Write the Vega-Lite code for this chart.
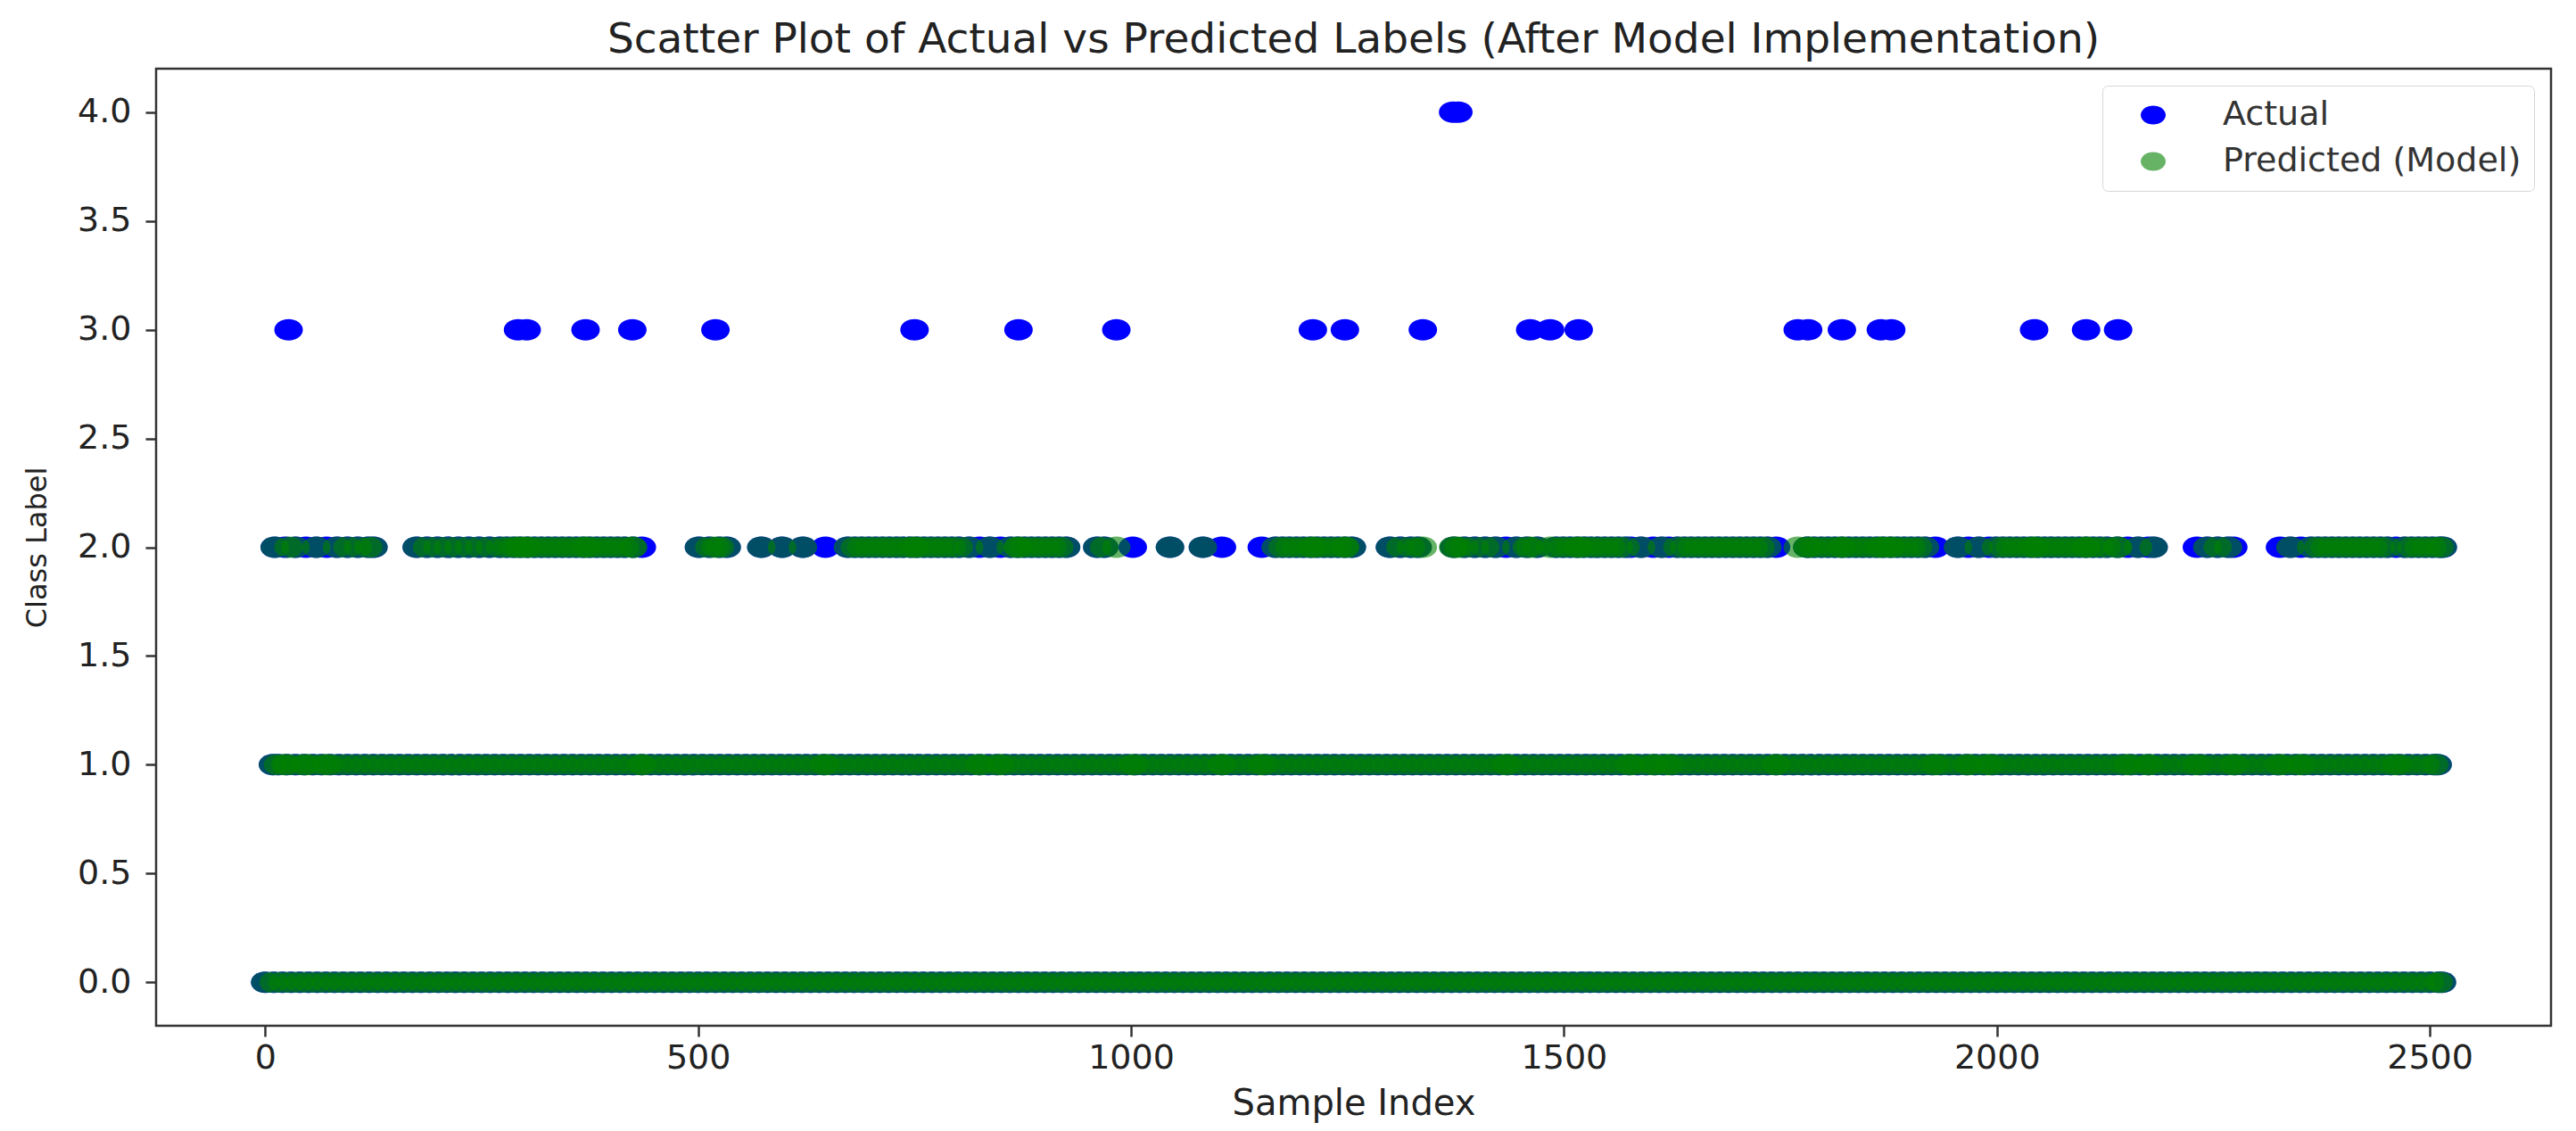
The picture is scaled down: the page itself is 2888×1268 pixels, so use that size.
{
  "$schema": "https://vega.github.io/schema/vega-lite/v6.json",
  "description": "Scatter of actual vs predicted class labels per sample index",
  "autosize": {"type": "none"},
  "width": 2685,
  "height": 1073,
  "padding": {"left": 175, "top": 77, "right": 28, "bottom": 118},
  "background": "white",
  "title": {
    "text": "Scatter Plot of Actual vs Predicted Labels (After Model Implementation)",
    "font": "DejaVu Sans",
    "fontSize": 47,
    "fontWeight": "normal",
    "color": "#222",
    "anchor": "middle",
    "offset": 8
  },
  "data": {
    "values": [
      {"i":0,"a":0,"p":0},{"i":10,"a":0,"p":0},{"i":20,"a":0,"p":0},{"i":30,"a":0,"p":0},{"i":40,"a":0,"p":0},{"i":50,"a":0,"p":0},{"i":60,"a":0,"p":0},{"i":70,"a":0,"p":0},{"i":80,"a":0,"p":0},{"i":90,"a":0,"p":0},
      {"i":100,"a":0,"p":0},{"i":110,"a":0,"p":0},{"i":120,"a":0,"p":0},{"i":130,"a":0,"p":0},{"i":140,"a":0,"p":0},{"i":150,"a":0,"p":0},{"i":160,"a":0,"p":0},{"i":170,"a":0,"p":0},{"i":180,"a":0,"p":0},{"i":190,"a":0,"p":0},
      {"i":200,"a":0,"p":0},{"i":210,"a":0,"p":0},{"i":220,"a":0,"p":0},{"i":230,"a":0,"p":0},{"i":240,"a":0,"p":0},{"i":250,"a":0,"p":0},{"i":260,"a":0,"p":0},{"i":270,"a":0,"p":0},{"i":280,"a":0,"p":0},{"i":290,"a":0,"p":0},
      {"i":300,"a":0,"p":0},{"i":310,"a":0,"p":0},{"i":320,"a":0,"p":0},{"i":330,"a":0,"p":0},{"i":340,"a":0,"p":0},{"i":350,"a":0,"p":0},{"i":360,"a":0,"p":0},{"i":370,"a":0,"p":0},{"i":380,"a":0,"p":0},{"i":390,"a":0,"p":0},
      {"i":400,"a":0,"p":0},{"i":410,"a":0,"p":0},{"i":420,"a":0,"p":0},{"i":430,"a":0,"p":0},{"i":440,"a":0,"p":0},{"i":450,"a":0,"p":0},{"i":460,"a":0,"p":0},{"i":470,"a":0,"p":0},{"i":480,"a":0,"p":0},{"i":490,"a":0,"p":0},
      {"i":500,"a":0,"p":0},{"i":510,"a":0,"p":0},{"i":520,"a":0,"p":0},{"i":530,"a":0,"p":0},{"i":540,"a":0,"p":0},{"i":550,"a":0,"p":0},{"i":560,"a":0,"p":0},{"i":570,"a":0,"p":0},{"i":580,"a":0,"p":0},{"i":590,"a":0,"p":0},
      {"i":600,"a":0,"p":0},{"i":610,"a":0,"p":0},{"i":620,"a":0,"p":0},{"i":630,"a":0,"p":0},{"i":640,"a":0,"p":0},{"i":650,"a":0,"p":0},{"i":660,"a":0,"p":0},{"i":670,"a":0,"p":0},{"i":680,"a":0,"p":0},{"i":690,"a":0,"p":0},
      {"i":700,"a":0,"p":0},{"i":710,"a":0,"p":0},{"i":720,"a":0,"p":0},{"i":730,"a":0,"p":0},{"i":740,"a":0,"p":0},{"i":750,"a":0,"p":0},{"i":760,"a":0,"p":0},{"i":770,"a":0,"p":0},{"i":780,"a":0,"p":0},{"i":790,"a":0,"p":0},
      {"i":800,"a":0,"p":0},{"i":810,"a":0,"p":0},{"i":820,"a":0,"p":0},{"i":830,"a":0,"p":0},{"i":840,"a":0,"p":0},{"i":850,"a":0,"p":0},{"i":860,"a":0,"p":0},{"i":870,"a":0,"p":0},{"i":880,"a":0,"p":0},{"i":890,"a":0,"p":0},
      {"i":900,"a":0,"p":0},{"i":910,"a":0,"p":0},{"i":920,"a":0,"p":0},{"i":930,"a":0,"p":0},{"i":940,"a":0,"p":0},{"i":950,"a":0,"p":0},{"i":960,"a":0,"p":0},{"i":970,"a":0,"p":0},{"i":980,"a":0,"p":0},{"i":990,"a":0,"p":0},
      {"i":1000,"a":0,"p":0},{"i":1010,"a":0,"p":0},{"i":1020,"a":0,"p":0},{"i":1030,"a":0,"p":0},{"i":1040,"a":0,"p":0},{"i":1050,"a":0,"p":0},{"i":1060,"a":0,"p":0},{"i":1070,"a":0,"p":0},{"i":1080,"a":0,"p":0},{"i":1090,"a":0,"p":0},
      {"i":1100,"a":0,"p":0},{"i":1110,"a":0,"p":0},{"i":1120,"a":0,"p":0},{"i":1130,"a":0,"p":0},{"i":1140,"a":0,"p":0},{"i":1150,"a":0,"p":0},{"i":1160,"a":0,"p":0},{"i":1170,"a":0,"p":0},{"i":1180,"a":0,"p":0},{"i":1190,"a":0,"p":0},
      {"i":1200,"a":0,"p":0},{"i":1210,"a":0,"p":0},{"i":1220,"a":0,"p":0},{"i":1230,"a":0,"p":0},{"i":1240,"a":0,"p":0},{"i":1250,"a":0,"p":0},{"i":1260,"a":0,"p":0},{"i":1270,"a":0,"p":0},{"i":1280,"a":0,"p":0},{"i":1290,"a":0,"p":0},
      {"i":1300,"a":0,"p":0},{"i":1310,"a":0,"p":0},{"i":1320,"a":0,"p":0},{"i":1330,"a":0,"p":0},{"i":1340,"a":0,"p":0},{"i":1350,"a":0,"p":0},{"i":1360,"a":0,"p":0},{"i":1370,"a":0,"p":0},{"i":1380,"a":0,"p":0},{"i":1390,"a":0,"p":0},
      {"i":1400,"a":0,"p":0},{"i":1410,"a":0,"p":0},{"i":1420,"a":0,"p":0},{"i":1430,"a":0,"p":0},{"i":1440,"a":0,"p":0},{"i":1450,"a":0,"p":0},{"i":1460,"a":0,"p":0},{"i":1470,"a":0,"p":0},{"i":1480,"a":0,"p":0},{"i":1490,"a":0,"p":0},
      {"i":1500,"a":0,"p":0},{"i":1510,"a":0,"p":0},{"i":1520,"a":0,"p":0},{"i":1530,"a":0,"p":0},{"i":1540,"a":0,"p":0},{"i":1550,"a":0,"p":0},{"i":1560,"a":0,"p":0},{"i":1570,"a":0,"p":0},{"i":1580,"a":0,"p":0},{"i":1590,"a":0,"p":0},
      {"i":1600,"a":0,"p":0},{"i":1610,"a":0,"p":0},{"i":1620,"a":0,"p":0},{"i":1630,"a":0,"p":0},{"i":1640,"a":0,"p":0},{"i":1650,"a":0,"p":0},{"i":1660,"a":0,"p":0},{"i":1670,"a":0,"p":0},{"i":1680,"a":0,"p":0},{"i":1690,"a":0,"p":0},
      {"i":1700,"a":0,"p":0},{"i":1710,"a":0,"p":0},{"i":1720,"a":0,"p":0},{"i":1730,"a":0,"p":0},{"i":1740,"a":0,"p":0},{"i":1750,"a":0,"p":0},{"i":1760,"a":0,"p":0},{"i":1770,"a":0,"p":0},{"i":1780,"a":0,"p":0},{"i":1790,"a":0,"p":0},
      {"i":1800,"a":0,"p":0},{"i":1810,"a":0,"p":0},{"i":1820,"a":0,"p":0},{"i":1830,"a":0,"p":0},{"i":1840,"a":0,"p":0},{"i":1850,"a":0,"p":0},{"i":1860,"a":0,"p":0},{"i":1870,"a":0,"p":0},{"i":1880,"a":0,"p":0},{"i":1890,"a":0,"p":0},
      {"i":1900,"a":0,"p":0},{"i":1910,"a":0,"p":0},{"i":1920,"a":0,"p":0},{"i":1930,"a":0,"p":0},{"i":1940,"a":0,"p":0},{"i":1950,"a":0,"p":0},{"i":1960,"a":0,"p":0},{"i":1970,"a":0,"p":0},{"i":1980,"a":0,"p":0},{"i":1990,"a":0,"p":0},
      {"i":2000,"a":0,"p":0},{"i":2010,"a":0,"p":0},{"i":2020,"a":0,"p":0},{"i":2030,"a":0,"p":0},{"i":2040,"a":0,"p":0},{"i":2050,"a":0,"p":0},{"i":2060,"a":0,"p":0},{"i":2070,"a":0,"p":0},{"i":2080,"a":0,"p":0},{"i":2090,"a":0,"p":0},
      {"i":2100,"a":0,"p":0},{"i":2110,"a":0,"p":0},{"i":2120,"a":0,"p":0},{"i":2130,"a":0,"p":0},{"i":2140,"a":0,"p":0},{"i":2150,"a":0,"p":0},{"i":2160,"a":0,"p":0},{"i":2170,"a":0,"p":0},{"i":2180,"a":0,"p":0},{"i":2190,"a":0,"p":0},
      {"i":2200,"a":0,"p":0},{"i":2210,"a":0,"p":0},{"i":2220,"a":0,"p":0},{"i":2230,"a":0,"p":0},{"i":2240,"a":0,"p":0},{"i":2250,"a":0,"p":0},{"i":2260,"a":0,"p":0},{"i":2270,"a":0,"p":0},{"i":2280,"a":0,"p":0},{"i":2290,"a":0,"p":0},
      {"i":2300,"a":0,"p":0},{"i":2310,"a":0,"p":0},{"i":2320,"a":0,"p":0},{"i":2330,"a":0,"p":0},{"i":2340,"a":0,"p":0},{"i":2350,"a":0,"p":0},{"i":2360,"a":0,"p":0},{"i":2370,"a":0,"p":0},{"i":2380,"a":0,"p":0},{"i":2390,"a":0,"p":0},
      {"i":2400,"a":0,"p":0},{"i":2410,"a":0,"p":0},{"i":2420,"a":0,"p":0},{"i":2430,"a":0,"p":0},{"i":2440,"a":0,"p":0},{"i":2450,"a":0,"p":0},{"i":2460,"a":0,"p":0},{"i":2470,"a":0,"p":0},{"i":2480,"a":0,"p":0},{"i":2490,"a":0,"p":0},
      {"i":2500,"a":0,"p":0},{"i":2510,"a":0,"p":0},{"i":2514,"a":0,"p":0},
      {"i":9,"a":1,"p":1},{"i":15,"a":1,"p":1},{"i":25,"a":1,"p":1},{"i":35,"a":1,"p":1},{"i":45,"a":1,"p":1},{"i":55,"a":1,"p":1},{"i":65,"a":1,"p":1},{"i":75,"a":1,"p":1},{"i":85,"a":1,"p":1},{"i":95,"a":1,"p":1},
      {"i":105,"a":1,"p":1},{"i":115,"a":1,"p":1},{"i":125,"a":1,"p":1},{"i":135,"a":1,"p":1},{"i":145,"a":1,"p":1},{"i":155,"a":1,"p":1},{"i":165,"a":1,"p":1},{"i":175,"a":1,"p":1},{"i":185,"a":1,"p":1},{"i":195,"a":1,"p":1},
      {"i":205,"a":1,"p":1},{"i":215,"a":1,"p":1},{"i":225,"a":1,"p":1},{"i":235,"a":1,"p":1},{"i":245,"a":1,"p":1},{"i":255,"a":1,"p":1},{"i":265,"a":1,"p":1},{"i":275,"a":1,"p":1},{"i":285,"a":1,"p":1},{"i":295,"a":1,"p":1},
      {"i":305,"a":1,"p":1},{"i":315,"a":1,"p":1},{"i":325,"a":1,"p":1},{"i":335,"a":1,"p":1},{"i":345,"a":1,"p":1},{"i":355,"a":1,"p":1},{"i":365,"a":1,"p":1},{"i":375,"a":1,"p":1},{"i":385,"a":1,"p":1},{"i":395,"a":1,"p":1},
      {"i":405,"a":1,"p":1},{"i":415,"a":1,"p":1},{"i":425,"a":1,"p":1},{"i":435,"a":1,"p":1},{"i":445,"a":1,"p":1},{"i":455,"a":1,"p":1},{"i":465,"a":1,"p":1},{"i":475,"a":1,"p":1},{"i":485,"a":1,"p":1},{"i":495,"a":1,"p":1},
      {"i":505,"a":1,"p":1},{"i":515,"a":1,"p":1},{"i":525,"a":1,"p":1},{"i":535,"a":1,"p":1},{"i":545,"a":1,"p":1},{"i":555,"a":1,"p":1},{"i":565,"a":1,"p":1},{"i":575,"a":1,"p":1},{"i":585,"a":1,"p":1},{"i":595,"a":1,"p":1},
      {"i":605,"a":1,"p":1},{"i":615,"a":1,"p":1},{"i":625,"a":1,"p":1},{"i":635,"a":1,"p":1},{"i":645,"a":1,"p":1},{"i":655,"a":1,"p":1},{"i":665,"a":1,"p":1},{"i":675,"a":1,"p":1},{"i":685,"a":1,"p":1},{"i":695,"a":1,"p":1},
      {"i":705,"a":1,"p":1},{"i":715,"a":1,"p":1},{"i":725,"a":1,"p":1},{"i":735,"a":1,"p":1},{"i":745,"a":1,"p":1},{"i":755,"a":1,"p":1},{"i":765,"a":1,"p":1},{"i":775,"a":1,"p":1},{"i":785,"a":1,"p":1},{"i":795,"a":1,"p":1},
      {"i":805,"a":1,"p":1},{"i":815,"a":1,"p":1},{"i":825,"a":1,"p":1},{"i":835,"a":1,"p":1},{"i":845,"a":1,"p":1},{"i":855,"a":1,"p":1},{"i":865,"a":1,"p":1},{"i":875,"a":1,"p":1},{"i":885,"a":1,"p":1},{"i":895,"a":1,"p":1},
      {"i":905,"a":1,"p":1},{"i":915,"a":1,"p":1},{"i":925,"a":1,"p":1},{"i":935,"a":1,"p":1},{"i":945,"a":1,"p":1},{"i":955,"a":1,"p":1},{"i":965,"a":1,"p":1},{"i":975,"a":1,"p":1},{"i":985,"a":1,"p":1},{"i":995,"a":1,"p":1},
      {"i":1005,"a":1,"p":1},{"i":1015,"a":1,"p":1},{"i":1025,"a":1,"p":1},{"i":1035,"a":1,"p":1},{"i":1045,"a":1,"p":1},{"i":1055,"a":1,"p":1},{"i":1065,"a":1,"p":1},{"i":1075,"a":1,"p":1},{"i":1085,"a":1,"p":1},{"i":1095,"a":1,"p":1},
      {"i":1105,"a":1,"p":1},{"i":1115,"a":1,"p":1},{"i":1125,"a":1,"p":1},{"i":1135,"a":1,"p":1},{"i":1145,"a":1,"p":1},{"i":1155,"a":1,"p":1},{"i":1165,"a":1,"p":1},{"i":1175,"a":1,"p":1},{"i":1185,"a":1,"p":1},{"i":1195,"a":1,"p":1},
      {"i":1205,"a":1,"p":1},{"i":1215,"a":1,"p":1},{"i":1225,"a":1,"p":1},{"i":1235,"a":1,"p":1},{"i":1245,"a":1,"p":1},{"i":1255,"a":1,"p":1},{"i":1265,"a":1,"p":1},{"i":1275,"a":1,"p":1},{"i":1285,"a":1,"p":1},{"i":1295,"a":1,"p":1},
      {"i":1305,"a":1,"p":1},{"i":1315,"a":1,"p":1},{"i":1325,"a":1,"p":1},{"i":1335,"a":1,"p":1},{"i":1345,"a":1,"p":1},{"i":1355,"a":1,"p":1},{"i":1365,"a":1,"p":1},{"i":1375,"a":1,"p":1},{"i":1385,"a":1,"p":1},{"i":1395,"a":1,"p":1},
      {"i":1405,"a":1,"p":1},{"i":1415,"a":1,"p":1},{"i":1425,"a":1,"p":1},{"i":1435,"a":1,"p":1},{"i":1445,"a":1,"p":1},{"i":1455,"a":1,"p":1},{"i":1465,"a":1,"p":1},{"i":1475,"a":1,"p":1},{"i":1485,"a":1,"p":1},{"i":1495,"a":1,"p":1},
      {"i":1505,"a":1,"p":1},{"i":1515,"a":1,"p":1},{"i":1525,"a":1,"p":1},{"i":1535,"a":1,"p":1},{"i":1545,"a":1,"p":1},{"i":1555,"a":1,"p":1},{"i":1565,"a":1,"p":1},{"i":1575,"a":1,"p":1},{"i":1585,"a":1,"p":1},{"i":1595,"a":1,"p":1},
      {"i":1605,"a":1,"p":1},{"i":1615,"a":1,"p":1},{"i":1625,"a":1,"p":1},{"i":1635,"a":1,"p":1},{"i":1645,"a":1,"p":1},{"i":1655,"a":1,"p":1},{"i":1665,"a":1,"p":1},{"i":1675,"a":1,"p":1},{"i":1685,"a":1,"p":1},{"i":1695,"a":1,"p":1},
      {"i":1705,"a":1,"p":1},{"i":1715,"a":1,"p":1},{"i":1725,"a":1,"p":1},{"i":1735,"a":1,"p":1},{"i":1745,"a":1,"p":1},{"i":1755,"a":1,"p":1},{"i":1765,"a":1,"p":1},{"i":1775,"a":1,"p":1},{"i":1785,"a":1,"p":1},{"i":1795,"a":1,"p":1},
      {"i":1805,"a":1,"p":1},{"i":1815,"a":1,"p":1},{"i":1825,"a":1,"p":1},{"i":1835,"a":1,"p":1},{"i":1845,"a":1,"p":1},{"i":1855,"a":1,"p":1},{"i":1865,"a":1,"p":1},{"i":1875,"a":1,"p":1},{"i":1885,"a":1,"p":1},{"i":1895,"a":1,"p":1},
      {"i":1905,"a":1,"p":1},{"i":1915,"a":1,"p":1},{"i":1925,"a":1,"p":1},{"i":1935,"a":1,"p":1},{"i":1945,"a":1,"p":1},{"i":1955,"a":1,"p":1},{"i":1965,"a":1,"p":1},{"i":1975,"a":1,"p":1},{"i":1985,"a":1,"p":1},{"i":1995,"a":1,"p":1},
      {"i":2005,"a":1,"p":1},{"i":2015,"a":1,"p":1},{"i":2025,"a":1,"p":1},{"i":2035,"a":1,"p":1},{"i":2045,"a":1,"p":1},{"i":2055,"a":1,"p":1},{"i":2065,"a":1,"p":1},{"i":2075,"a":1,"p":1},{"i":2085,"a":1,"p":1},{"i":2095,"a":1,"p":1},
      {"i":2105,"a":1,"p":1},{"i":2115,"a":1,"p":1},{"i":2125,"a":1,"p":1},{"i":2135,"a":1,"p":1},{"i":2145,"a":1,"p":1},{"i":2155,"a":1,"p":1},{"i":2165,"a":1,"p":1},{"i":2175,"a":1,"p":1},{"i":2185,"a":1,"p":1},{"i":2195,"a":1,"p":1},
      {"i":2205,"a":1,"p":1},{"i":2215,"a":1,"p":1},{"i":2225,"a":1,"p":1},{"i":2235,"a":1,"p":1},{"i":2245,"a":1,"p":1},{"i":2255,"a":1,"p":1},{"i":2265,"a":1,"p":1},{"i":2275,"a":1,"p":1},{"i":2285,"a":1,"p":1},{"i":2295,"a":1,"p":1},
      {"i":2305,"a":1,"p":1},{"i":2315,"a":1,"p":1},{"i":2325,"a":1,"p":1},{"i":2335,"a":1,"p":1},{"i":2345,"a":1,"p":1},{"i":2355,"a":1,"p":1},{"i":2365,"a":1,"p":1},{"i":2375,"a":1,"p":1},{"i":2385,"a":1,"p":1},{"i":2395,"a":1,"p":1},
      {"i":2405,"a":1,"p":1},{"i":2415,"a":1,"p":1},{"i":2425,"a":1,"p":1},{"i":2435,"a":1,"p":1},{"i":2445,"a":1,"p":1},{"i":2455,"a":1,"p":1},{"i":2465,"a":1,"p":1},{"i":2475,"a":1,"p":1},{"i":2485,"a":1,"p":1},{"i":2495,"a":1,"p":1},
      {"i":2505,"a":1,"p":1},{"i":2509,"a":1,"p":1},
      {"i":11,"a":2,"p":2},{"i":23,"a":2,"p":1},{"i":35,"a":2,"p":2},{"i":47,"a":2,"p":1},{"i":59,"a":2,"p":2},{"i":71,"a":2,"p":1},{"i":83,"a":2,"p":2},
      {"i":95,"a":2,"p":2},{"i":107,"a":2,"p":2},{"i":119,"a":2,"p":2},{"i":125,"a":2,"p":2},
      {"i":175,"a":2,"p":2},{"i":187,"a":2,"p":2},{"i":199,"a":2,"p":2},{"i":211,"a":2,"p":2},{"i":223,"a":2,"p":2},{"i":235,"a":2,"p":2},{"i":247,"a":2,"p":2},{"i":259,"a":2,"p":2},
      {"i":271,"a":2,"p":2},{"i":279,"a":2,"p":2},{"i":287,"a":2,"p":2},{"i":295,"a":2,"p":2},{"i":303,"a":2,"p":2},{"i":311,"a":2,"p":2},{"i":319,"a":2,"p":2},{"i":327,"a":2,"p":2},{"i":335,"a":2,"p":2},{"i":343,"a":2,"p":2},
      {"i":351,"a":2,"p":2},{"i":359,"a":2,"p":2},{"i":367,"a":2,"p":2},{"i":375,"a":2,"p":2},{"i":383,"a":2,"p":2},{"i":391,"a":2,"p":2},{"i":399,"a":2,"p":2},{"i":407,"a":2,"p":2},{"i":415,"a":2,"p":2},
      {"i":425,"a":2,"p":2},{"i":435,"a":2,"p":1},
      {"i":501,"a":2,"p":2},{"i":513,"a":2,"p":2},{"i":525,"a":2,"p":2},{"i":533,"a":2,"p":2},
      {"i":573,"a":2,"p":2},{"i":597,"a":2,"p":2},{"i":621,"a":2,"p":2},{"i":647,"a":2,"p":1},
      {"i":673,"a":2,"p":2},{"i":681,"a":2,"p":2},{"i":689,"a":2,"p":2},{"i":697,"a":2,"p":2},{"i":705,"a":2,"p":2},{"i":713,"a":2,"p":2},{"i":721,"a":2,"p":2},{"i":729,"a":2,"p":2},{"i":737,"a":2,"p":2},{"i":745,"a":2,"p":2},
      {"i":753,"a":2,"p":2},{"i":761,"a":2,"p":2},{"i":769,"a":2,"p":2},{"i":777,"a":2,"p":2},{"i":785,"a":2,"p":2},{"i":793,"a":2,"p":2},{"i":801,"a":2,"p":2},
      {"i":813,"a":2,"p":2},{"i":825,"a":2,"p":1},{"i":837,"a":2,"p":2},{"i":849,"a":2,"p":1},{"i":861,"a":2,"p":2},
      {"i":869,"a":2,"p":2},{"i":877,"a":2,"p":2},{"i":885,"a":2,"p":2},{"i":893,"a":2,"p":2},{"i":901,"a":2,"p":2},{"i":909,"a":2,"p":2},{"i":917,"a":2,"p":2},{"i":925,"a":2,"p":2},
      {"i":961,"a":2,"p":2},{"i":969,"a":2,"p":2},{"i":1002,"a":2,"p":1},{"i":1045,"a":2,"p":2},{"i":1083,"a":2,"p":2},{"i":1105,"a":2,"p":1},
      {"i":1151,"a":2,"p":1},{"i":1167,"a":2,"p":2},{"i":1175,"a":2,"p":2},{"i":1183,"a":2,"p":2},{"i":1191,"a":2,"p":2},{"i":1199,"a":2,"p":2},{"i":1207,"a":2,"p":2},{"i":1215,"a":2,"p":2},{"i":1223,"a":2,"p":2},{"i":1231,"a":2,"p":2},{"i":1239,"a":2,"p":2},{"i":1247,"a":2,"p":2},{"i":1255,"a":2,"p":2},
      {"i":1299,"a":2,"p":2},{"i":1311,"a":2,"p":2},{"i":1323,"a":2,"p":2},{"i":1331,"a":2,"p":2},
      {"i":1373,"a":2,"p":2},{"i":1385,"a":2,"p":2},{"i":1397,"a":2,"p":2},{"i":1409,"a":2,"p":2},{"i":1421,"a":2,"p":2},{"i":1433,"a":2,"p":1},{"i":1445,"a":2,"p":2},{"i":1457,"a":2,"p":2},{"i":1469,"a":2,"p":2},
      {"i":1491,"a":2,"p":2},{"i":1499,"a":2,"p":2},{"i":1507,"a":2,"p":2},{"i":1515,"a":2,"p":2},{"i":1523,"a":2,"p":2},{"i":1531,"a":2,"p":2},{"i":1539,"a":2,"p":2},{"i":1547,"a":2,"p":2},{"i":1555,"a":2,"p":2},{"i":1563,"a":2,"p":2},{"i":1571,"a":2,"p":2},
      {"i":1577,"a":2,"p":1},{"i":1589,"a":2,"p":2},{"i":1603,"a":2,"p":1},{"i":1613,"a":2,"p":2},{"i":1621,"a":2,"p":1},
      {"i":1631,"a":2,"p":2},{"i":1639,"a":2,"p":2},{"i":1647,"a":2,"p":2},{"i":1655,"a":2,"p":2},{"i":1663,"a":2,"p":2},{"i":1671,"a":2,"p":2},{"i":1679,"a":2,"p":2},{"i":1687,"a":2,"p":2},{"i":1695,"a":2,"p":2},{"i":1703,"a":2,"p":2},{"i":1711,"a":2,"p":2},{"i":1719,"a":2,"p":2},{"i":1727,"a":2,"p":2},{"i":1735,"a":2,"p":2},{"i":1745,"a":2,"p":1},
      {"i":1781,"a":2,"p":2},{"i":1789,"a":2,"p":2},{"i":1797,"a":2,"p":2},{"i":1805,"a":2,"p":2},{"i":1813,"a":2,"p":2},{"i":1821,"a":2,"p":2},{"i":1829,"a":2,"p":2},{"i":1837,"a":2,"p":2},{"i":1845,"a":2,"p":2},{"i":1853,"a":2,"p":2},
      {"i":1861,"a":2,"p":2},{"i":1869,"a":2,"p":2},{"i":1877,"a":2,"p":2},{"i":1885,"a":2,"p":2},{"i":1893,"a":2,"p":2},{"i":1901,"a":2,"p":2},{"i":1909,"a":2,"p":2},{"i":1917,"a":2,"p":2},{"i":1929,"a":2,"p":1},
      {"i":1955,"a":2,"p":2},{"i":1967,"a":2,"p":1},{"i":1979,"a":2,"p":2},{"i":1991,"a":2,"p":1},
      {"i":1999,"a":2,"p":2},{"i":2007,"a":2,"p":2},{"i":2015,"a":2,"p":2},{"i":2023,"a":2,"p":2},{"i":2031,"a":2,"p":2},{"i":2039,"a":2,"p":2},{"i":2047,"a":2,"p":2},{"i":2055,"a":2,"p":2},{"i":2063,"a":2,"p":2},
      {"i":2071,"a":2,"p":2},{"i":2079,"a":2,"p":2},{"i":2087,"a":2,"p":2},{"i":2095,"a":2,"p":2},{"i":2103,"a":2,"p":2},{"i":2111,"a":2,"p":2},{"i":2119,"a":2,"p":2},{"i":2127,"a":2,"p":2},
      {"i":2139,"a":2,"p":2},{"i":2151,"a":2,"p":1},{"i":2163,"a":2,"p":2},{"i":2175,"a":2,"p":1},{"i":2181,"a":2,"p":2},
      {"i":2231,"a":2,"p":1},{"i":2243,"a":2,"p":2},{"i":2255,"a":2,"p":2},{"i":2267,"a":2,"p":2},{"i":2273,"a":2,"p":1},
      {"i":2327,"a":2,"p":1},{"i":2339,"a":2,"p":2},{"i":2351,"a":2,"p":1},{"i":2363,"a":2,"p":2},
      {"i":2371,"a":2,"p":2},{"i":2379,"a":2,"p":2},{"i":2387,"a":2,"p":2},{"i":2395,"a":2,"p":2},{"i":2403,"a":2,"p":2},{"i":2411,"a":2,"p":2},{"i":2419,"a":2,"p":2},{"i":2427,"a":2,"p":2},{"i":2435,"a":2,"p":2},{"i":2443,"a":2,"p":2},{"i":2451,"a":2,"p":2},
      {"i":2461,"a":2,"p":1},{"i":2471,"a":2,"p":2},{"i":2479,"a":2,"p":2},{"i":2487,"a":2,"p":2},{"i":2495,"a":2,"p":2},{"i":2503,"a":2,"p":2},{"i":2511,"a":2,"p":2},{"i":2515,"a":2,"p":2},
      {"i":27,"a":3,"p":2},{"i":292,"a":3,"p":2},{"i":302,"a":3,"p":2},{"i":370,"a":3,"p":2},{"i":424,"a":3,"p":2},{"i":520,"a":3,"p":2},{"i":750,"a":3,"p":2},{"i":870,"a":3,"p":2},{"i":983,"a":3,"p":2},
      {"i":1210,"a":3,"p":2},{"i":1247,"a":3,"p":2},{"i":1337,"a":3,"p":2},{"i":1461,"a":3,"p":2},{"i":1484,"a":3,"p":2},{"i":1517,"a":3,"p":2},{"i":1770,"a":3,"p":2},{"i":1782,"a":3,"p":2},
      {"i":1821,"a":3,"p":2},{"i":1866,"a":3,"p":2},{"i":1878,"a":3,"p":2},{"i":2043,"a":3,"p":2},{"i":2103,"a":3,"p":2},{"i":2140,"a":3,"p":2},
      {"i":1372,"a":4,"p":2},{"i":1378,"a":4,"p":2}
    ]
  },
  "transform": [
    {"fold": ["a", "p"], "as": ["series", "label"]}
  ],
  "mark": {
    "type": "point",
    "filled": true,
    "shape": "M-1,0A1,0.75,0,1,1,1,0A1,0.75,0,1,1,-1,0Z",
    "size": 1024,
    "strokeWidth": 0
  },
  "encoding": {
    "x": {
      "field": "i",
      "type": "quantitative",
      "scale": {"domain": [-126, 2640], "nice": false, "zero": false},
      "axis": {
        "title": "Sample Index",
        "values": [0, 500, 1000, 1500, 2000, 2500],
        "format": "d",
        "labelPadding": 5,
        "titleFontSize": 40,
        "titlePadding": 12
      }
    },
    "y": {
      "field": "label",
      "type": "quantitative",
      "scale": {"domain": [-0.2, 4.2], "nice": false, "zero": false},
      "axis": {
        "title": "Class Label",
        "values": [0, 0.5, 1, 1.5, 2, 2.5, 3, 3.5, 4],
        "format": ".1f",
        "labelPadding": 16,
        "titleFontSize": 32,
        "titlePadding": 28
      }
    },
    "color": {
      "field": "series",
      "type": "nominal",
      "scale": {"domain": ["a", "p"], "range": ["#0000ff", "#008000"]},
      "legend": {
        "title": null,
        "orient": "top-right",
        "offset": 19,
        "padding": 14,
        "strokeColor": "#d6d6d6",
        "cornerRadius": 6,
        "fillColor": "white",
        "labelFont": "DejaVu Sans",
        "labelFontSize": 38,
        "labelColor": "#333",
        "labelLimit": 0,
        "labelExpr": "datum.value === 'a' ? 'Actual' : 'Predicted (Model)'",
        "symbolType": "M-1,0A1,0.75,0,1,1,1,0A1,0.75,0,1,1,-1,0Z",
        "symbolSize": 784,
        "symbolStrokeWidth": 0,
        "rowPadding": 14,
        "labelOffset": 59,
        "symbolOffset": 24
      }
    },
    "opacity": {
      "field": "series",
      "type": "nominal",
      "scale": {"type": "ordinal", "domain": ["a", "p"], "range": [1, 0.6]},
      "legend": {
        "title": null,
        "orient": "top-right",
        "offset": 19,
        "padding": 14,
        "strokeColor": "#d6d6d6",
        "cornerRadius": 6,
        "fillColor": "white",
        "labelFont": "DejaVu Sans",
        "labelFontSize": 38,
        "labelColor": "#333",
        "labelLimit": 0,
        "labelExpr": "datum.value === 'a' ? 'Actual' : 'Predicted (Model)'",
        "symbolType": "M-1,0A1,0.75,0,1,1,1,0A1,0.75,0,1,1,-1,0Z",
        "symbolSize": 784,
        "symbolStrokeWidth": 0,
        "rowPadding": 14,
        "labelOffset": 59,
        "symbolOffset": 24
      }
    },
    "order": {"field": "series", "sort": "ascending"}
  },
  "config": {
    "view": {"stroke": "#333", "strokeWidth": 2.5},
    "axis": {
      "grid": false,
      "domain": false,
      "labelFont": "DejaVu Sans",
      "labelFontSize": 38,
      "labelColor": "#222",
      "tickColor": "#333",
      "tickWidth": 2.5,
      "tickSize": 12,
      "titleFont": "DejaVu Sans",
      "titleFontWeight": "normal",
      "titleColor": "#222"
    }
  }
}
